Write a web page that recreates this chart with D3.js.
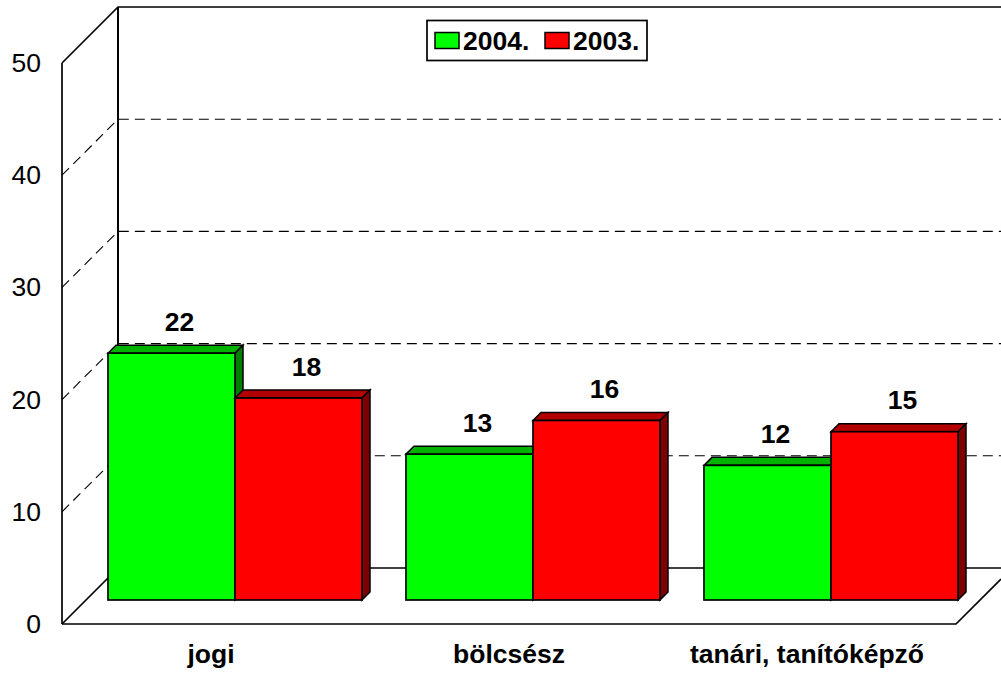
<!DOCTYPE html>
<html><head><meta charset="utf-8">
<script src="https://cdn.jsdelivr.net/npm/d3@7"></script>
<style>html,body{margin:0;padding:0;background:#fff}svg{display:block}text{font-family:"Liberation Sans",Arial,sans-serif}</style>
</head><body><svg id="c" width="1001" height="673"></svg>
<script>
const categories = ["jogi","bölcsész","tanári, tanítóképző"];
const seriesNames = ["2004.","2003."];
const values2004 = [22,13,12];
const values2003 = [18,16,15];
const yTicks = [0,10,20,30,40,50];
const colors = ["#00ff00","#ff0000"];
const topColors = ["#00b200","#b20000"];
const sideColors = ["#007f00","#7f0000"];

const svg = d3.select("#c");
const W = 1001;
const depth = 56, barDepth = 8, barOffset = 24;
const left = 62, right = 956;
const y = d3.scaleLinear().domain([0,50]).range([624,63]);
const x0 = d3.scaleBand().domain(categories).range([left+barOffset, right+barOffset]);
const yBar = v => y(v) - barOffset;
const line = d3.line();
const ink = "#000";
const FS = 26.5;

const grid = svg.append("g");
const solid = (pts,w) => grid.append("path").attr("d", line(pts)).attr("fill","none").attr("stroke",ink).attr("stroke-width",w);
solid([[left,y(50)],[left+depth,y(50)-depth],[W,y(50)-depth]],1.7);
solid([[left+depth,y(50)-depth],[left+depth,y(0)-depth]],2);
solid([[left,y(0)],[left,y(50)]],1.7);
solid([[left+depth,y(0)-depth],[W,y(0)-depth]],1.7);
solid([[left,y(0)],[left+depth,y(0)-depth]],1.7);
solid([[left,y(0)],[right,y(0)],[W,y(0)-(W-right)]],1.7);
yTicks.filter(t => t>0 && t<50).forEach(t => {
  grid.append("path").attr("d", line([[left,y(t)],[left+depth,y(t)-depth],[W,y(t)-depth]]))
    .attr("fill","none").attr("stroke",ink).attr("stroke-width",1.1).attr("stroke-dasharray","10 6");
});

const rows = categories.flatMap((c,i) => [
  {c, s:0, v:values2004[i]}, {c, s:1, v:values2003[i]}
]);
const bars = svg.append("g").selectAll("g").data(rows).join("g");
const bw = 127;
const bx = d => x0(d.c)+x0.bandwidth()/2 + (d.s===0 ? -bw : 0);
bars.append("path").attr("d", d => { const a=bx(d), t=yBar(d.v);
    return line([[a,t],[a+barDepth,t-barDepth],[a+bw+barDepth,t-barDepth],[a+bw,t]])+"Z"; })
  .attr("fill", d=>topColors[d.s]).attr("stroke",ink).attr("stroke-width",1.5);
bars.append("path").attr("d", d => { const a=bx(d)+bw, t=yBar(d.v), b=yBar(0);
    return line([[a,t],[a+barDepth,t-barDepth],[a+barDepth,b-barDepth],[a,b]])+"Z"; })
  .attr("fill", d=>sideColors[d.s]).attr("stroke",ink).attr("stroke-width",1.5);
bars.append("rect").attr("x",bx).attr("y",d=>yBar(d.v)).attr("width",bw).attr("height",d=>yBar(0)-yBar(d.v))
  .attr("fill",d=>colors[d.s]).attr("stroke",ink).attr("stroke-width",1.7);
bars.append("text").attr("x",d=>bx(d)+bw/2+8).attr("y",d=>yBar(d.v)-22.5).attr("text-anchor","middle")
  .attr("font-size",FS).attr("font-weight","bold").attr("fill","#000").text(d=>d.v);

svg.append("g").selectAll("text").data(yTicks).join("text")
  .attr("x",41).attr("y",d=>y(d)+9).attr("text-anchor","end").attr("font-size",FS).attr("fill","#000").text(d=>d);
svg.append("g").selectAll("text").data(categories).join("text")
  .attr("x",c=>x0(c)+x0.bandwidth()/2-24).attr("y",663).attr("text-anchor","middle")
  .attr("font-size",FS).attr("font-weight","bold").attr("fill","#000").text(c=>c);

const lg = svg.append("g");
lg.append("rect").attr("x",427).attr("y",20.5).attr("width",220).attr("height",40).attr("fill","#fff").attr("stroke",ink).attr("stroke-width",1.7);
[435,545].forEach((lx,i)=>{
  lg.append("rect").attr("x",lx).attr("y",32.5).attr("width",24).attr("height",16).attr("fill",colors[i]).attr("stroke",ink).attr("stroke-width",1.5);
  lg.append("text").attr("x",lx+28).attr("y",50).attr("font-size",FS).attr("font-weight","bold").attr("fill","#000").text(seriesNames[i]);
});
</script></body></html>
